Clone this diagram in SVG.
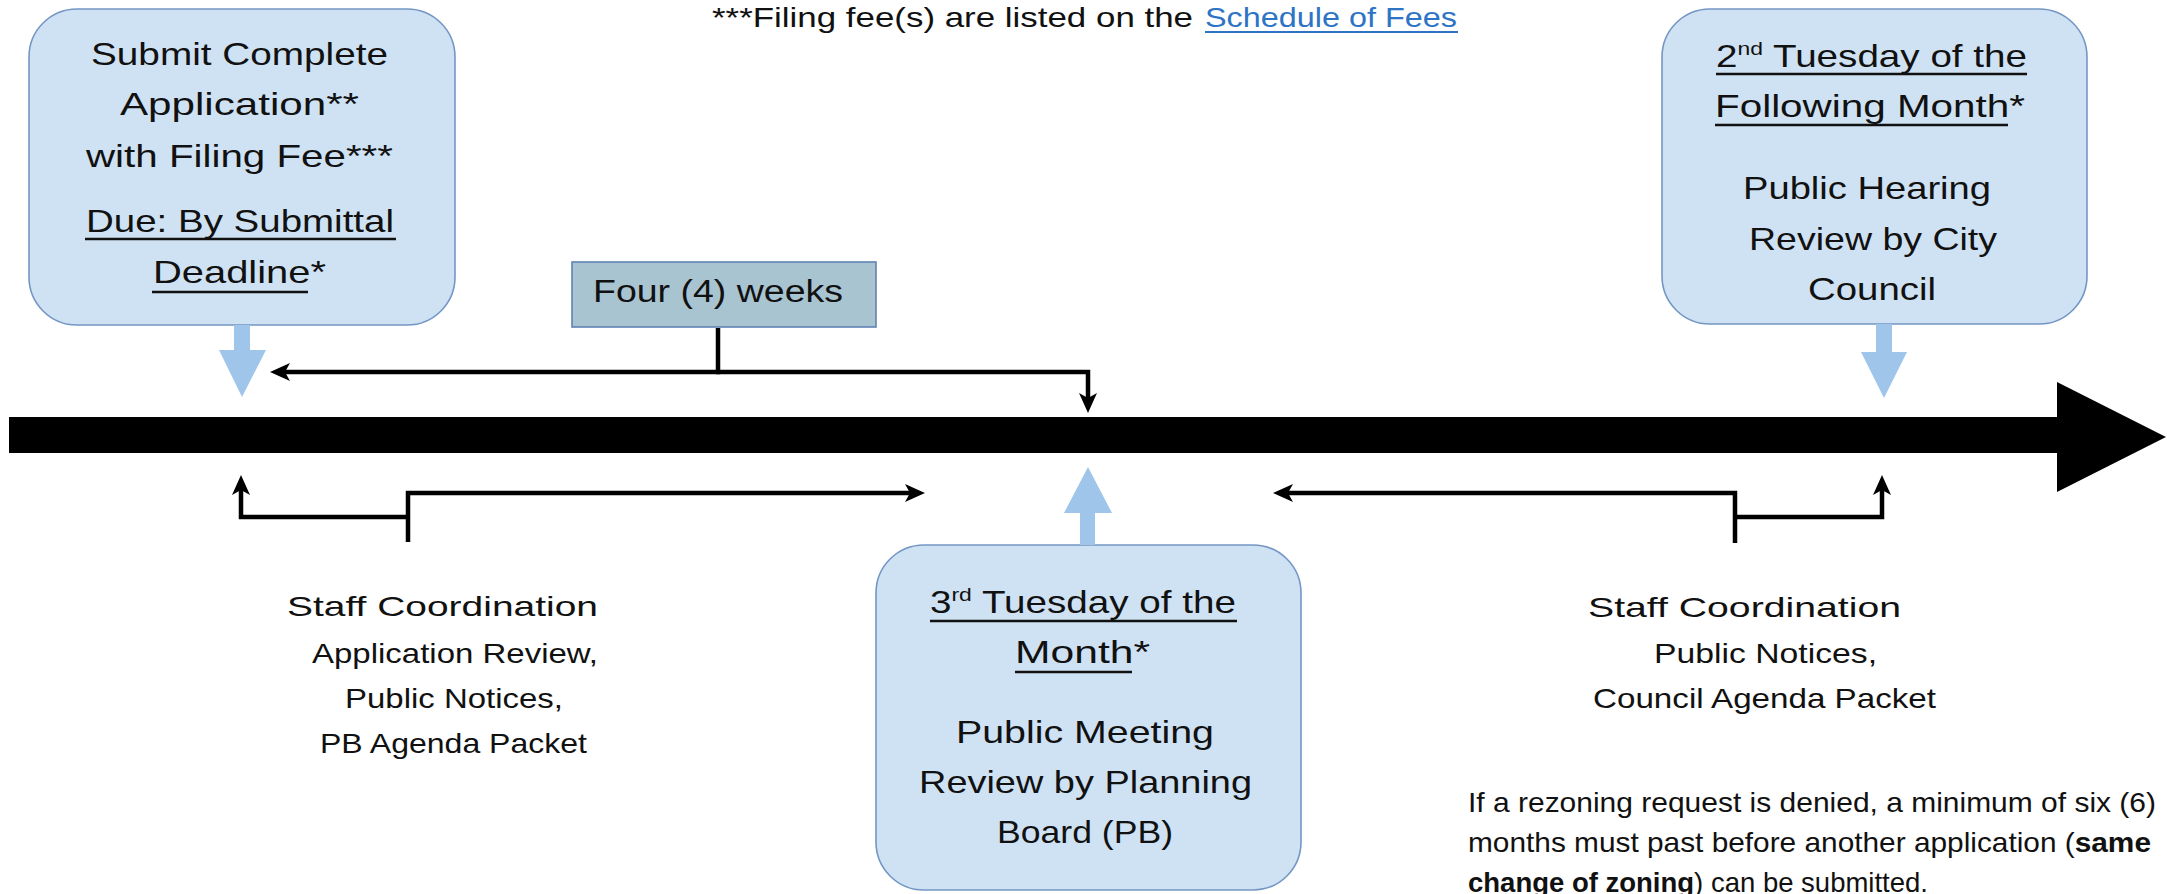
<svg xmlns="http://www.w3.org/2000/svg" width="2167" height="894" viewBox="0 0 2167 894">
<style>
.t{font-family:"Liberation Sans",Arial,sans-serif;fill:#111;}
.b32{font-size:32px;}
.b31{font-size:31px;}
.s28{font-size:28px;}
.box{fill:#cfe2f4;stroke:#7496c4;stroke-width:1.6;}
.wk{fill:#a9c4d1;stroke:#5f83b3;stroke-width:1.6;}
.ul{stroke:#111;stroke-width:2.6;}
.blk{fill:#9fc5ea;}
.con{fill:none;stroke:#000;stroke-width:4.5;stroke-linejoin:miter;}
.bold{font-weight:bold;}
</style>
<defs>
<marker id="ah" markerUnits="userSpaceOnUse" viewBox="0 0 20 20" markerWidth="20" markerHeight="20" refX="10" refY="10" orient="auto">
<path d="M0,1 L20,10 L0,19 L5,10 z" fill="#000"/>
</marker>
</defs>
<rect width="2167" height="894" fill="#fff"/>

<g id="timeline">
<polygon points="9,417 2057,417 2057,382 2166,437 2057,492 2057,453 9,453" fill="#000"/>
</g>

<g id="note-fees">
<text class="t s28" x="712" y="27" textLength="481" lengthAdjust="spacingAndGlyphs">***Filing fee(s) are listed on the</text>
<text class="t s28" x="1205" y="27" textLength="252" lengthAdjust="spacingAndGlyphs" style="fill:#2e74c5">Schedule of Fees</text>
<line x1="1205" y1="32" x2="1458" y2="32" stroke="#2e74c5" stroke-width="2"/>
</g>

<g id="node-submit">
<rect class="box" x="29" y="9" width="426" height="316" rx="48"/>
<text class="t b32" x="91" y="65" textLength="297" lengthAdjust="spacingAndGlyphs">Submit Complete</text>
<text class="t b32" x="120" y="115" textLength="239" lengthAdjust="spacingAndGlyphs">Application**</text>
<text class="t b32" x="86" y="167" textLength="307" lengthAdjust="spacingAndGlyphs">with Filing Fee***</text>
<text class="t b32" x="86" y="232" textLength="308" lengthAdjust="spacingAndGlyphs">Due: By Submittal</text>
<line class="ul" x1="85" y1="239" x2="396" y2="239"/>
<text class="t b32" x="153" y="283" textLength="173" lengthAdjust="spacingAndGlyphs">Deadline*</text>
<line class="ul" x1="152" y1="292" x2="308" y2="292"/>
<polygon class="blk" points="234,325 250,325 250,350 266,350 242,397 219,350 234,350"/>
</g>

<g id="node-fourweeks">
<rect class="wk" x="572" y="262" width="304" height="65"/>
<text class="t b31" x="593" y="302" textLength="250" lengthAdjust="spacingAndGlyphs">Four (4) weeks</text>
</g>

<g id="node-council">
<rect class="box" x="1662" y="9" width="425" height="315" rx="48"/>
<text class="t b32" x="1716" y="67" textLength="311" lengthAdjust="spacingAndGlyphs">2<tspan font-size="19" dy="-12">nd</tspan><tspan dy="12"> Tuesday of the</tspan></text>
<line class="ul" x1="1716" y1="74" x2="2027" y2="74"/>
<text class="t b32" x="1715" y="117" textLength="310" lengthAdjust="spacingAndGlyphs">Following Month*</text>
<line class="ul" x1="1715" y1="125" x2="2008" y2="125"/>
<text class="t b32" x="1743" y="199" textLength="248" lengthAdjust="spacingAndGlyphs">Public Hearing</text>
<text class="t b32" x="1749" y="250" textLength="248" lengthAdjust="spacingAndGlyphs">Review by City</text>
<text class="t b32" x="1808" y="300" textLength="128" lengthAdjust="spacingAndGlyphs">Council</text>
<polygon class="blk" points="1876,324 1892,324 1892,352 1907,352 1884,398 1861,352 1876,352"/>
</g>

<g id="node-pb">
<rect class="box" x="876" y="545" width="425" height="345" rx="48"/>
<text class="t b32" x="930" y="613" textLength="306" lengthAdjust="spacingAndGlyphs">3<tspan font-size="19" dy="-12">rd</tspan><tspan dy="12"> Tuesday of the</tspan></text>
<line class="ul" x1="930" y1="621" x2="1237" y2="621"/>
<text class="t b32" x="1015" y="663" textLength="135" lengthAdjust="spacingAndGlyphs">Month*</text>
<line class="ul" x1="1015" y1="672" x2="1132" y2="672"/>
<text class="t b32" x="956" y="743" textLength="258" lengthAdjust="spacingAndGlyphs">Public Meeting</text>
<text class="t b32" x="919" y="793" textLength="333" lengthAdjust="spacingAndGlyphs">Review by Planning</text>
<text class="t b32" x="997" y="843" textLength="176" lengthAdjust="spacingAndGlyphs">Board (PB)</text>
<polygon class="blk" points="1080,545 1095,545 1095,513 1112,513 1088,467 1064,513 1080,513"/>
</g>

<g id="label-staff1">
<text class="t s28" x="287" y="616" textLength="311" lengthAdjust="spacingAndGlyphs">Staff Coordination</text>
<text class="t s28" x="312" y="663" textLength="286" lengthAdjust="spacingAndGlyphs">Application Review,</text>
<text class="t s28" x="345" y="708" textLength="218" lengthAdjust="spacingAndGlyphs">Public Notices,</text>
<text class="t s28" x="320" y="753" textLength="267" lengthAdjust="spacingAndGlyphs">PB Agenda Packet</text>
</g>

<g id="label-staff2">
<text class="t s28" x="1588" y="617" textLength="313" lengthAdjust="spacingAndGlyphs">Staff Coordination</text>
<text class="t s28" x="1654" y="663" textLength="223" lengthAdjust="spacingAndGlyphs">Public Notices,</text>
<text class="t s28" x="1593" y="708" textLength="343" lengthAdjust="spacingAndGlyphs">Council Agenda Packet</text>
</g>

<g id="note-rezoning">
<text class="t s28" x="1468" y="812" textLength="688" lengthAdjust="spacingAndGlyphs">If a rezoning request is denied, a minimum of six (6)</text>
<text class="t s28" x="1468" y="852" textLength="683" lengthAdjust="spacingAndGlyphs">months must past before another application (<tspan class="bold">same</tspan></text>
<text class="t s28" x="1468" y="892" textLength="460" lengthAdjust="spacingAndGlyphs"><tspan class="bold">change of zoning</tspan>) can be submitted.</text>
</g>

<g id="connectors">
<path class="con" d="M718,328 V372 H280" marker-end="url(#ah)"/>
<path class="con" d="M716,372 H1088 V403" marker-end="url(#ah)"/>
<path class="con" d="M408,542 V493 H915" marker-end="url(#ah)"/>
<path class="con" d="M408,517 H241 V485" marker-end="url(#ah)"/>
<path class="con" d="M1735,543 V493 H1283" marker-end="url(#ah)"/>
<path class="con" d="M1735,517 H1882 V485" marker-end="url(#ah)"/>
</g>
</svg>
